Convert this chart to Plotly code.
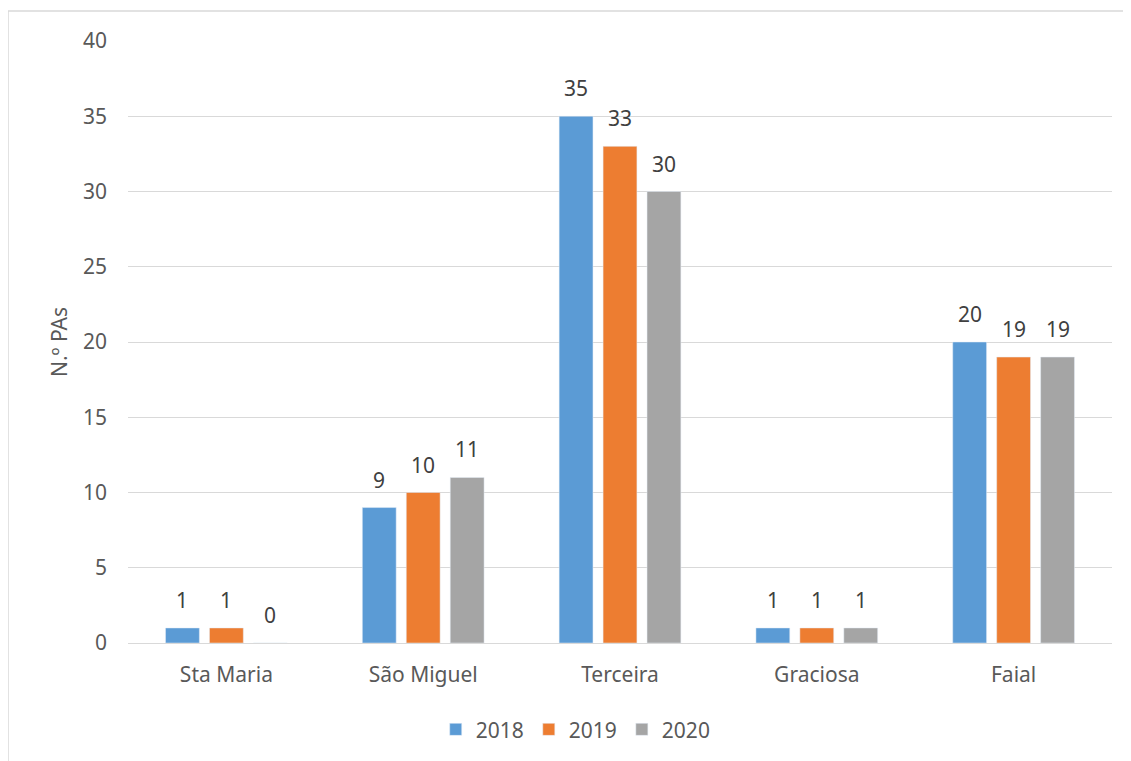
import plotly.graph_objects as go

islands = ["Sta Maria", "São Miguel", "Terceira", "Graciosa", "Faial"]
years = ["2018", "2019", "2020"]
v2018 = [1, 9, 35, 1, 20]
v2019 = [1, 10, 33, 1, 19]
v2020 = [0, 11, 30, 1, 19]
colors = ["#5B9BD5", "#ED7D31", "#A5A5A5"]

FONT = "Noto Sans"
TXT = "#595959"
OFF = 8  # page body margin

L, T = 128 - OFF, 41 - OFF
PW, PH = 984, 602
W, H = 1131 - OFF, 761 - OFF
BARGAP = 0.33
SLOT = PW / len(islands) * (1 - BARGAP) / len(years)

fig = go.Figure()
annotations = []
for i, (name, vals, c) in enumerate(zip(years, [v2018, v2019, v2020], colors)):
    fig.add_trace(go.Bar(x=islands, y=vals, name=name, marker_color=c))
    for cat, v in zip(islands, vals):
        annotations.append(dict(
            x=cat, y=v, xref="x", yref="y", text=str(v), showarrow=False,
            xanchor="center", yanchor="bottom", xshift=(i - 1) * SLOT, yshift=12,
            font=dict(family=FONT, size=21, color="#404040")))

fig.update_layout(
    width=W, height=H,
    margin=dict(l=L, r=W - L - PW, t=T, b=H - T - PH, autoexpand=False),
    paper_bgcolor="white", plot_bgcolor="white",
    barmode="group", bargap=BARGAP, bargroupgap=0.23,
    font=dict(family=FONT, size=21, color=TXT),
    showlegend=True,
    legend=dict(orientation="h", x=0.455, xanchor="center", y=-0.11, yanchor="top",
                font=dict(family=FONT, size=21, color=TXT), traceorder="normal",
                itemwidth=30),
    yaxis=dict(range=[0, 40], dtick=5, showgrid=True, gridcolor="#D9D9D9", gridwidth=1,
               zeroline=True, zerolinecolor="#D9D9D9", zerolinewidth=1,
               ticks="", ticklabelstandoff=20,
               tickfont=dict(family=FONT, size=21, color=TXT),
               title=dict(text="N.º PAs", font=dict(family=FONT, size=21, color=TXT), standoff=9)),
    xaxis=dict(showgrid=False, showline=True, linecolor="#D9D9D9", linewidth=1, ticks="",
               ticklabelstandoff=13,
               tickfont=dict(family=FONT, size=21, color=TXT)),
    annotations=annotations,
    shapes=[dict(type="rect", xref="paper", yref="paper",
                 x0=(8 - 128) / PW, x1=1.3, y0=-0.5, y1=(643 - 11) / PH,
                 line=dict(color="#D9D9D9", width=1.5), fillcolor="rgba(0,0,0,0)", layer="below")],
)

fig.write_html("out.html")
